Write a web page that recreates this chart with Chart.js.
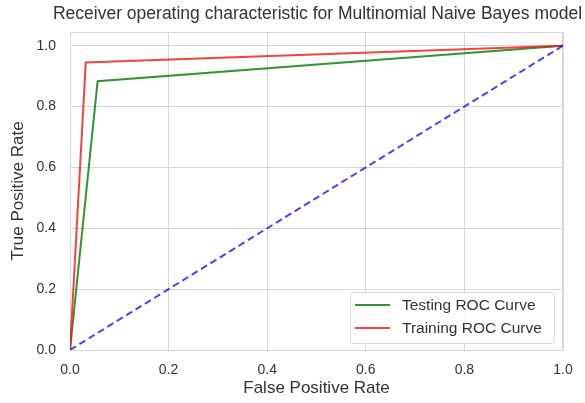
<!DOCTYPE html>
<html>
<head>
<meta charset="utf-8">
<script src="https://cdn.jsdelivr.net/npm/chart.js@4/dist/chart.umd.min.js"></script>
<style>
  html, body { margin: 0; padding: 0; background: #fff; }
  #wrap { width: 585px; height: 403px; }
</style>
</head>
<body>
<div id="wrap"><canvas id="roc" width="585" height="403"></canvas></div>
<script>
const chartTitle = "Receiver operating characteristic for Multinomial Naive Bayes model";
const testLabel = "Testing ROC Curve";
const trainLabel = "Training ROC Curve";

// точки ROC кривых (fpr, tpr)
const fprTest = [0, 0.056, 1];
const tprTest = [0, 0.883, 1];
const fprTrain = [0, 0.032, 1];
const tprTrain = [0, 0.945, 1];
const fprDiag = [0, 1];
const tprDiag = [0, 1];

const xTicks = [0, 0.2, 0.4, 0.6, 0.8, 1.0];
const yTicks = [0, 0.2, 0.4, 0.6, 0.8, 1.0];

const FONT = "'Liberation Sans', Arial, sans-serif";
const TEXT = "#333333";
const GRID = "#d6d6d6";

function toPoints(xs, ys) {
  return xs.map((x, i) => ({ x: x, y: ys[i] }));
}

// рамка вокруг области графика
const framePlugin = {
  id: "frame",
  beforeDatasetsDraw(chart) {
    const a = chart.chartArea;
    const ctx = chart.ctx;
    ctx.save();
    ctx.strokeStyle = GRID;
    ctx.lineWidth = 1;
    ctx.strokeRect(a.left + 0.5, a.top + 0.5, a.right - a.left - 1, a.bottom - a.top);
    ctx.restore();
  },
};

// заголовок по центру области графика
const titlePlugin = {
  id: "centerTitle",
  afterDraw(chart) {
    const a = chart.chartArea;
    const ctx = chart.ctx;
    ctx.save();
    ctx.font = "17.5px " + FONT;
    ctx.fillStyle = TEXT;
    ctx.textAlign = "center";
    ctx.textBaseline = "middle";
    ctx.fillText(chartTitle, (a.left + a.right) / 2 + 1, 14);
    ctx.restore();
  },
};

// легенда в правом нижнем углу
const legendPlugin = {
  id: "boxLegend",
  afterDraw(chart) {
    const a = chart.chartArea;
    const ctx = chart.ctx;
    const items = chart.data.datasets.filter((d) => d.showInLegend);
    items.sort((p, q) => p.legendOrder - q.legendOrder);
    const w = 204, h = 51;
    const x = a.right - 9 - w;
    const y = a.bottom - 7 - h;
    ctx.save();
    ctx.fillStyle = "rgba(255,255,255,0.85)";
    ctx.strokeStyle = "#d9d9d9";
    ctx.lineWidth = 1;
    ctx.beginPath();
    ctx.roundRect(x + 0.5, y + 0.5, w, h, 3);
    ctx.fill();
    ctx.stroke();
    ctx.font = "15.5px " + FONT;
    ctx.textBaseline = "middle";
    items.forEach((d, i) => {
      const cy = y + 13 + i * 23;
      ctx.strokeStyle = d.borderColor;
      ctx.lineWidth = 2;
      ctx.beginPath();
      ctx.moveTo(x + 5, cy);
      ctx.lineTo(x + 40, cy);
      ctx.stroke();
      ctx.fillStyle = TEXT;
      ctx.fillText(d.label, x + 52, cy + 1);
    });
    ctx.restore();
  },
};

new Chart(document.getElementById("roc"), {
  type: "line",
  data: {
    datasets: [
      {
        label: "diag",
        data: toPoints(fprDiag, tprDiag),
        borderColor: "rgba(20,20,245,0.8)",
        borderDash: [7, 4],
        borderWidth: 2,
        pointRadius: 0,
      },
      {
        label: trainLabel,
        data: toPoints(fprTrain, tprTrain),
        borderColor: "rgba(240,20,20,0.8)",
        borderWidth: 2,
        pointRadius: 0,
        showInLegend: true,
        legendOrder: 2,
      },
      {
        label: testLabel,
        data: toPoints(fprTest, tprTest),
        borderColor: "rgba(0,120,0,0.8)",
        borderWidth: 2,
        pointRadius: 0,
        showInLegend: true,
        legendOrder: 1,
      },
    ],
  },
  options: {
    responsive: false,
    animation: false,
    layout: { padding: { left: 0, right: 22, top: 32, bottom: 0 } },
    plugins: {
      legend: { display: false },
      title: { display: false },
      tooltip: { enabled: false },
    },
    scales: {
      x: {
        type: "linear",
        min: 0,
        max: 1,
        afterBuildTicks: (s) => { s.ticks = xTicks.map((v) => ({ value: v })); },
        afterFit: (s) => { s.height = 53; },
        grid: { color: GRID, drawTicks: false },
        border: { display: false },
        ticks: {
          padding: 12,
          color: TEXT,
          font: { family: FONT, size: 14 },
          callback: (v) => Number(v).toFixed(1),
          maxRotation: 0,
        },
        title: {
          display: true,
          text: "False Positive Rate",
          color: TEXT,
          font: { family: FONT, size: 17 },
          padding: { top: 0, bottom: 4 },
        },
      },
      y: {
        type: "linear",
        min: 0,
        max: 1.045,
        afterBuildTicks: (s) => { s.ticks = yTicks.map((v) => ({ value: v })); },
        afterFit: (s) => { s.width = 70; },
        grid: { color: GRID, drawTicks: false },
        border: { display: false },
        ticks: {
          padding: 14,
          color: TEXT,
          font: { family: FONT, size: 14 },
          callback: (v) => Number(v).toFixed(1),
        },
        title: {
          display: true,
          text: "True Positive Rate",
          color: TEXT,
          font: { family: FONT, size: 17 },
          padding: { top: 8, bottom: 0 },
        },
      },
    },
  },
  plugins: [framePlugin, titlePlugin, legendPlugin],
});
</script>
</body>
</html>
